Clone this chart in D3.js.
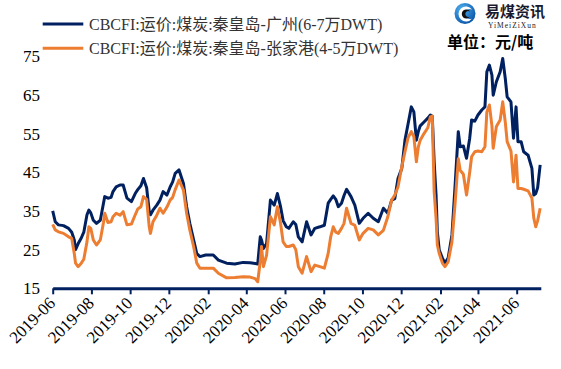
<!DOCTYPE html>
<html>
<head>
<meta charset="utf-8">
<script src="https://cdn.jsdelivr.net/npm/d3@7"></script>
<style>
  body { margin: 0; background: #fff; }
  svg { display: block; font-family: "Liberation Serif", "Times New Roman", "Noto Sans CJK SC", serif; }
</style>
</head>
<body>
<div id="chart"></div>
<script>
// dates of the readings (shared by both routes)
var dates = [
  '2019-06-01','2019-06-05','2019-06-10','2019-06-18','2019-06-26','2019-07-01','2019-07-05','2019-07-07','2019-07-11','2019-07-16',
  '2019-07-20','2019-07-25','2019-07-28','2019-07-31','2019-08-04','2019-08-09','2019-08-15','2019-08-20','2019-08-22','2019-08-27',
  '2019-09-01','2019-09-04','2019-09-09','2019-09-15','2019-09-20','2019-09-26','2019-10-03','2019-10-09','2019-10-13','2019-10-18',
  '2019-10-22','2019-10-27','2019-10-31','2019-11-02','2019-11-06','2019-11-12','2019-11-17','2019-11-22','2019-11-28','2019-12-03',
  '2019-12-07','2019-12-11','2019-12-17','2019-12-24','2019-12-29','2020-01-03','2020-01-09','2020-01-14','2020-01-19','2020-01-28',
  '2020-02-09','2020-02-17','2020-03-01','2020-03-14','2020-03-27','2020-04-07','2020-04-15','2020-04-19','2020-04-23','2020-04-25',
  '2020-04-28','2020-05-03','2020-05-09','2020-05-15','2020-05-20','2020-05-25','2020-05-29','2020-06-03','2020-06-07','2020-06-14',
  '2020-06-18','2020-06-22','2020-06-28','2020-07-05','2020-07-12','2020-07-18','2020-07-26','2020-08-02','2020-08-08','2020-08-12',
  '2020-08-16','2020-08-20','2020-08-24','2020-08-29','2020-09-02','2020-09-06','2020-09-13','2020-09-19','2020-09-26','2020-10-02',
  '2020-10-10','2020-10-18','2020-10-26','2020-11-03','2020-11-10','2020-11-16','2020-11-21','2020-11-26','2020-12-02','2020-12-07',
  '2020-12-12','2020-12-17','2020-12-21','2020-12-25','2020-12-28','2020-12-31','2021-01-06','2021-01-12','2021-01-16','2021-01-19',
  '2021-01-22','2021-01-25','2021-01-27','2021-01-30','2021-02-04','2021-02-08','2021-02-13','2021-02-19','2021-02-24','2021-03-01',
  '2021-03-04','2021-03-09','2021-03-14','2021-03-19','2021-03-22','2021-03-27','2021-04-01','2021-04-07','2021-04-12','2021-04-15',
  '2021-04-19','2021-04-23','2021-04-25','2021-04-30','2021-05-06','2021-05-10','2021-05-14','2021-05-17','2021-05-23','2021-05-27',
  '2021-05-31','2021-06-03','2021-06-08','2021-06-12','2021-06-19','2021-06-25','2021-06-28','2021-07-01','2021-07-04','2021-07-08'
]

// 秦皇岛-广州 (6-7万DWT), 元/吨
var guangzhou = [
  35, 32.2, 31.4, 31.2, 30.5, 29.5, 27.5, 25, 26.5, 28,
  29.5, 34, 35.2, 34.5, 32.6, 31.8, 32.6, 37, 38.7, 38.3,
  38.5, 40, 41.2, 41.7, 41.7, 38.3, 37.4, 39.5, 40.5, 41.5,
  43.4, 41, 35, 34, 35.2, 36.5, 37.8, 40, 39.1, 41.2,
  42.5, 44.7, 45.6, 42.1, 36.1, 31.8, 27.5, 24, 23.2, 23.6,
  23.6, 22.3, 21.5, 21.3, 21.7, 21.6, 21.4, 21.3, 28.3, 27.5,
  25.3, 26.6, 37.8, 36.5, 39.5, 36.1, 32.5, 30.9, 30.5, 32.2,
  31.5, 28.3, 27, 32.2, 28.8, 30.5, 30.9, 31.3, 37, 38,
  38.9, 38, 36.1, 37, 39, 40.6, 38.7, 36.5, 31.8, 33.1,
  34.4, 33.1, 32.2, 35.7, 34.4, 37.8, 38.2, 43.4, 46, 53.3,
  57.6, 61.9, 60.6, 53.3, 55.5, 57, 58, 59, 59.8, 59.5,
  47.7, 39.1, 29.6, 24.9, 22.8, 21.5, 22.8, 28.8, 41.7, 55.5,
  51.6, 51.8, 48.6, 53.8, 58.5, 58.2, 59.8, 61.1, 61.9, 71,
  72.7, 70.1, 64.9, 68.4, 71, 74.4, 69.3, 64.5, 63.2, 53.8,
  61.9, 52.9, 52.9, 50.3, 49.4, 46, 39.1, 39.5, 41, 46.9
]

// 秦皇岛-张家港 (4-5万DWT), 元/吨
var zhangjiagang = [
  31.5, 30.1, 29.6, 29.2, 28.3, 27.9, 24, 21.5, 20.6, 21.5,
  22.5, 27, 30.9, 30.5, 27.5, 26.2, 27.5, 32, 34.4, 32,
  32.2, 33.5, 34.4, 33.9, 34.8, 31.4, 31.6, 34, 35.5, 36.1,
  38.7, 38, 31, 29.2, 32.2, 33.9, 35.7, 34.4, 36, 37.8,
  38.5, 40.5, 43, 40.4, 34.4, 30.1, 25.8, 21.5, 20.2, 20.2,
  20.2, 18.9, 17.7, 17.8, 18, 17.9, 17.5, 16.7, 22, 25.8,
  20.6, 23.6, 33.5, 31.4, 36.1, 31.8, 27, 25.8, 25.8, 26.2,
  25, 20.6, 18.9, 23.2, 19.3, 21, 20.6, 20.2, 24, 28.3,
  30.9, 29.5, 29.2, 30.5, 31.8, 35.7, 31.8, 31.3, 27.5, 29.2,
  30.5, 30.1, 28.8, 30, 33.5, 37.8, 39.1, 41.2, 46.4, 50.3,
  54, 55.5, 54.2, 47.7, 51.5, 53.3, 55, 56.5, 59.3, 59.5,
  40, 33.1, 26.2, 24, 21.5, 20.6, 21.8, 27, 37, 48.5,
  45.5, 44.5, 39.1, 45, 49, 50.3, 50.5, 50.3, 51.6, 60.6,
  62.4, 57, 51.2, 56.8, 58.5, 63.2, 58, 52.9, 50.5, 42.5,
  49.4, 40.8, 40.8, 40.6, 40.2, 38.3, 33.1, 30.9, 32.5, 35.7
]

var seriesNames = ['CBCFI:运价:煤炭:秦皇岛-广州(6-7万DWT)', 'CBCFI:运价:煤炭:秦皇岛-张家港(4-5万DWT)']
var seriesColors = ['#002060', '#ED7D31']
var yTicks = [15, 25, 35, 45, 55, 65, 75]
var xTickDates = ['2019-06', '2019-08', '2019-10', '2019-12', '2020-02', '2020-04', '2020-06',
  '2020-08', '2020-10', '2020-12', '2021-02', '2021-04', '2021-06']

var width = 561
var height = 369

var parseDay = d3.timeParse('%Y-%m-%d')
var parseMonth = d3.timeParse('%Y-%m')

var x = d3.scaleTime()
  .domain([parseDay('2019-06-01'), parseDay('2021-07-09')])
  .range([52.7, 540.8])

var y = d3.scaleLinear()
  .domain([15, 75])
  .range([288.3, 56.2])

var svg = d3.select('#chart')
  .append('svg')
  .attr('width', width)
  .attr('height', height)

// series lines
var series = [guangzhou, zhangjiagang]
var line = d3.line()
  .x(function (d) { return x(d[0]) })
  .y(function (d) { return y(d[1]) })

series.forEach(function (values, i) {
  svg.append('path')
    .datum(d3.zip(dates.map(parseDay), values))
    .attr('d', line)
    .attr('fill', 'none')
    .attr('stroke', seriesColors[i])
    .attr('stroke-width', 3)
    .attr('stroke-linejoin', 'round')
})

// y labels only, no axis line
svg.append('g')
  .attr('transform', 'translate(40,0)')
  .call(d3.axisLeft(y).tickValues(yTicks).tickSize(0).tickPadding(0))
  .call(function (g) {
    g.select('.domain').remove()
    g.selectAll('text')
      .attr('font-family', '"Liberation Serif", "Times New Roman", serif')
      .attr('font-size', 17)
      .attr('fill', '#000')
  })

// x axis with rotated labels
svg.append('g')
  .attr('transform', 'translate(0,288.3)')
  .call(d3.axisBottom(x)
    .tickValues(xTickDates.map(parseMonth))
    .tickFormat(d3.timeFormat('%Y-%m'))
    .tickSize(6)
    .tickSizeOuter(0))
  .call(function (g) {
    g.select('.domain')
      .attr('stroke', '#002060')
      .attr('stroke-width', 3)
    g.selectAll('.tick line')
      .attr('stroke', '#002060')
      .attr('stroke-width', 2)
    g.selectAll('text')
      .attr('x', 0)
      .attr('y', 0)
      .attr('dy', 0)
      .attr('transform', 'translate(3,16) rotate(-45)')
      .attr('text-anchor', 'end')
      .attr('font-family', '"Liberation Serif", "Times New Roman", serif')
      .attr('font-size', 17)
      .attr('fill', '#000')
  })

// legend
var legend = svg.append('g')
seriesNames.forEach(function (name, i) {
  var ly = 24 + i * 24.3
  legend.append('line')
    .attr('x1', 42.7).attr('x2', 83.3)
    .attr('y1', ly).attr('y2', ly)
    .attr('stroke', seriesColors[i])
    .attr('stroke-width', 3)
  legend.append('text')
    .attr('x', 89)
    .attr('y', ly + 6)
    .attr('font-size', 16)
    .attr('fill', '#333')
    .text(name)
})

// logo
var logo = svg.append('g')
var grad = svg.append('defs').append('radialGradient')
  .attr('id', 'logoGrad')
  .attr('cx', '35%').attr('cy', '30%').attr('r', '75%')
grad.append('stop').attr('offset', '0%').attr('stop-color', '#4fb0ef')
grad.append('stop').attr('offset', '100%').attr('stop-color', '#0b56a8')
logo.append('circle')
  .attr('cx', 465).attr('cy', 13.5).attr('r', 10.5)
  .attr('fill', 'url(#logoGrad)')
logo.append('path')
  .attr('d', 'M472,9.5 A7.5,7.5 0 1 0 472,18.5 A5,5 0 1 1 472,9.5 Z')
  .attr('fill', '#fff')
logo.append('path')
  .attr('d', 'M470,11.5 A4.5,4.5 0 1 0 470,16.5 A3,3 0 1 1 470,11.5 Z')
  .attr('fill', '#111')
logo.append('text')
  .attr('x', 485).attr('y', 16.5)
  .attr('font-family', '"Noto Sans CJK SC", sans-serif')
  .attr('font-weight', 'bold')
  .attr('font-size', 15)
  .attr('fill', '#1a1a2e')
  .text('易煤资讯')
logo.append('text')
  .attr('x', 488).attr('y', 27.5)
  .attr('font-size', 7.5)
  .attr('letter-spacing', 1)
  .attr('fill', '#222')
  .text('YiMeiZiXun')
logo.append('text')
  .attr('x', 447).attr('y', 48)
  .attr('font-family', '"Noto Sans CJK SC", sans-serif')
  .attr('font-weight', 'bold')
  .attr('font-size', 16)
  .attr('fill', '#000')
  .text('单位：元/吨')
</script>
</body>
</html>
